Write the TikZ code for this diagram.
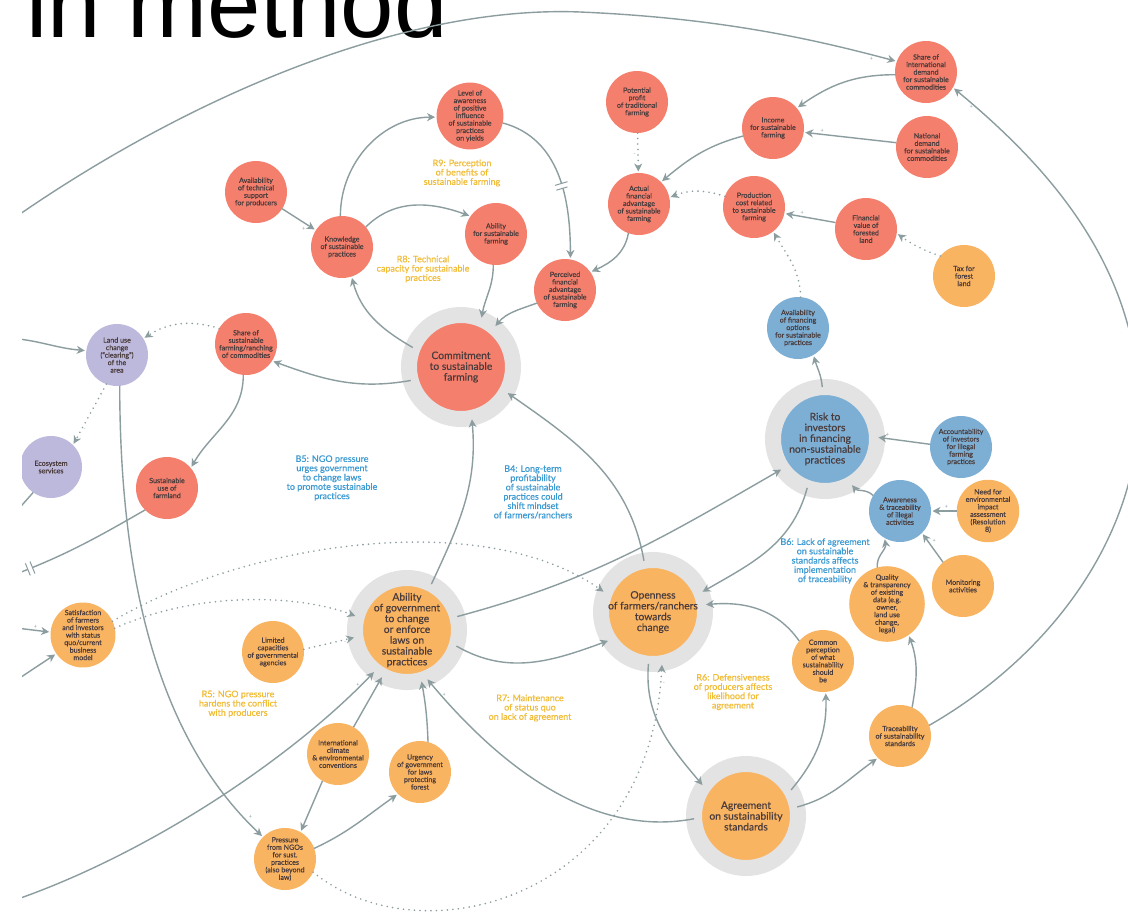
\documentclass[tikz,border=0pt]{standalone}
\usepackage{fontspec}
\setmainfont{Lato}
\newfontfamily\titlefont{Liberation Sans}
\newfontfamily\ndfont{Lato}[FakeBold=0.5]
\usetikzlibrary{arrows.meta,decorations.markings}
\definecolor{rc}{HTML}{F47F6D}
\definecolor{oc}{HTML}{F9B462}
\definecolor{bc}{HTML}{7DAFD5}
\definecolor{pc}{HTML}{BDB9DC}
\definecolor{hc}{HTML}{E3E3E3}
\definecolor{lc}{HTML}{8C9D9F}
\definecolor{tc}{HTML}{4A3C3C}
\definecolor{yl}{HTML}{F1BC36}
\definecolor{bl}{HTML}{3C9AD2}
\begin{document}
\begin{tikzpicture}[x=1pt,y=1pt,
  nd/.style={circle, inner sep=0pt, outer sep=0pt, minimum size=62pt, align=center, text=tc,
    font=\ndfont\fontsize{7.1}{7.5}\selectfont},
  rn/.style={nd, fill=rc}, onn/.style={nd, fill=oc}, bn/.style={nd, fill=bc}, pn/.style={nd, fill=pc},
  big/.style={minimum size=104pt, draw=hc, line width=16pt, font=\ndfont\fontsize{10.3}{10.8}\selectfont},
  ar/.style={draw=lc, line width=1.4pt, -{Stealth[length=8pt,width=8pt,inset=2.5pt]}, shorten >=1.5pt},
  dt/.style={ar, line width=1.8pt, dash pattern=on 0pt off 5.5pt, line cap=round},
  ln/.style={draw=lc, line width=1.4pt},
  sg/.style={font=\fontsize{5.5}{5.5}\selectfont, text=lc, inner sep=1.5pt},
  lblY/.style={align=center, text=yl, font=\ndfont\fontsize{9}{9.3}\selectfont, inner sep=0pt},
  lblB/.style={align=center, text=bl, font=\ndfont\fontsize{9}{9.3}\selectfont, inner sep=0pt},
  dly/.style={postaction={decorate, decoration={markings, mark=at position #1 with {
    \fill[white] (-2.5pt,-6pt) rectangle (2.5pt,6pt);
    \draw[lc, line width=1pt, solid, -] (-2.5pt,-6.5pt) -- (-2.5pt,6.5pt) (2.5pt,-6.5pt) -- (2.5pt,6.5pt);}}}}
]
\useasboundingbox (0,0) rectangle (1128,-916);
\fill[white] (0,0) rectangle (1128,-916);
\begin{scope}
\clip (0,0) rectangle (1128,-916);
\node[anchor=base west, inner sep=0pt, font=\titlefont\fontsize{96}{96}\selectfont] (ttl) at (26,-37) {in method};
\end{scope}
\begin{scope}
\clip (22,0) rectangle (1128,-916);
% ---------- red nodes
\node[rn] (lvl) at (470,-116) {Level of\\awareness\\of positive\\influence\\of sustainable\\practices\\on yields};
\node[rn] (avail) at (256,-192) {Availability\\of technical\\support\\for producers};
\node[rn] (know) at (342,-247) {Knowledge\\of sustainable\\practices};
\node[rn] (abil) at (496,-234) {Ability\\for sustainable\\farming};
\node[rn] (pot) at (637,-102) {Potential\\profit\\of traditional\\farming};
\node[rn] (inc) at (773,-128) {Income\\for sustainable\\farming};
\node[rn] (shint) at (926,-72) {Share of\\international\\demand\\for sustainable\\commodities};
\node[rn] (nat) at (927,-147) {National\\demand\\for sustainable\\commodities};
\node[rn] (act) at (639,-204) {Actual\\financial\\advantage\\of sustainable\\farming};
\node[rn] (prod) at (754,-207) {Production\\cost related\\to sustainable\\farming};
\node[rn] (fin) at (866,-229) {Financial\\value of\\forested\\land};
\node[rn] (perc) at (565,-290) {Perceived\\financial\\advantage\\of sustainable\\farming};
\node[rn] (shsus) at (246,-344) {Share of\\sustainable\\farming/ranching\\of commodities};
\node[rn] (suse) at (167,-488) {Sustainable\\use of\\farmland};
\node[rn, big] (commit) at (461,-367) {Commitment\\to sustainable\\farming};
% ---------- purple nodes
\node[pn] (land) at (117,-355) {Land use\\change\\(“clearing”)\\of the\\area};
\node[pn] (eco) at (51,-467) {Ecosystem\\services};
% ---------- blue nodes
\node[bn] (afin) at (798,-328) {Availability\\of financing\\options\\for sustainable\\practices};
\node[bn, big] (risk) at (825,-439) {Risk to\\investors\\in financing\\non-sustainable\\practices};
\node[bn] (acc) at (961,-447) {Accountability\\of investors\\for illegal\\farming\\practices};
\node[bn] (aw) at (900,-511) {Awareness\\\& traceability\\of illegal\\activities};
% ---------- orange nodes
\node[onn] (tax) at (964,-276) {Tax for\\forest\\land};
\node[onn] (need) at (988,-511) {Need for\\environmental\\impact\\assessment\\(Resolution\\8)};
\node[onn] (mon) at (963,-586) {Monitoring\\activities};
\node[onn] (qual) at (887,-604) {Quality\\\& transparency\\of existing\\data (e.g.\\owner,\\land use\\change,\\legal)};
\node[onn] (comm) at (823,-661) {Common\\perception\\of what\\sustainability\\should\\be};
\node[onn] (trace) at (900,-736) {Traceability\\of sustainability\\standards};
\node[onn] (sat) at (83,-635) {Satisfaction\\of farmers\\and investors\\with status\\quo/current\\business\\model};
\node[onn] (lim) at (273,-652) {Limited\\capacities\\of governmental\\agencies};
\node[onn] (intl) at (338,-754) {International\\climate\\\& environmental\\conventions};
\node[onn] (urg) at (420,-772) {Urgency\\of government\\for laws\\protecting\\forest};
\node[onn] (press) at (285,-859) {Pressure\\from NGOs\\for sust.\\practices\\(also beyond\\law)};
\node[onn, big] (gov) at (407,-630) {Ability\\of government\\to change\\or enforce\\laws on\\sustainable\\practices};
\node[onn, big] (open) at (653,-612) {Openness\\of farmers/ranchers\\towards\\change};
\node[onn, big] (agree) at (746,-816) {Agreement\\on sustainability\\standards};
% ---------- free ends
\coordinate (lA) at (0,-228);
\coordinate (lB) at (0,-338);
\coordinate (lC) at (0,-530);
\coordinate (lD) at (0,-580);
\coordinate (lE) at (0,-626);
\coordinate (lF) at (0,-691);
\coordinate (lG) at (0,-905);
% ---------- loop labels
\node[lblY] (r9) at (462,-173) {R9: Perception\\of benefits of\\sustainable farming};
\node[lblY] (r8) at (423,-269) {R8: Technical\\capacity for sustainable\\practices};
\node[lblB] (b5) at (332,-478) {B5: NGO pressure\\urges government\\to change laws\\to promote sustainable\\practices};
\node[lblB] (b4) at (533,-492) {B4: Long-term\\profitability\\of sustainable\\practices could\\shift mindset\\of farmers/ranchers};
\node[lblB] (b6) at (825,-561) {B6: Lack of agreement\\on sustainable\\standards affects\\implementation\\of traceability};
\node[lblY] (r5) at (238,-704) {R5: NGO pressure\\hardens the conflict\\with producers};
\node[lblY] (r7) at (530,-708) {R7: Maintenance\\of status quo\\on lack of agreement};
\node[lblY] (r6) at (733,-692) {R6: Defensiveness\\of producers affects\\likelihood for\\agreement};
% ---------- connectors
\draw[ar] (lA) .. controls (180,-100) and (400,-5) .. (580,-12) .. controls (720,-18) and (813,-39) .. (shint.160) node[sg,pos=.9,below]{+};
\draw[ar] (avail) -- (know) node[sg,pos=.75,below left]{+};
\draw[ar] (know.93) to[out=90,in=180] (lvl.182) node[sg,pos=.9,below]{+};
\draw[ar] (know.40) to[out=45,in=160] (abil.145) node[sg,pos=.88,below]{+};
\draw[ar, dly=.55] (lvl.-12) to[out=-15,in=90] (perc.80) node[sg,pos=.9,left]{+};
\draw[ar] (abil.-95) to[out=-90,in=80] (commit.67) node[sg,pos=.8,left]{+};
\draw[ar] (perc.205) to[out=200,in=50] (commit.50) node[sg,pos=.8,below right]{+};
\draw[ar] (commit.158) to[out=150,in=-75] (know.-72) node[sg,pos=.85,right]{+};
\draw[ar] (commit.195) to[out=190,in=-20] (shsus.-33) node[sg,pos=.88,above]{+};
\draw[dt] (pot) -- (act) node[sg,pos=.55,left]{-};
\draw[ar] (inc.195) to[out=195,in=40] (act.45) node[sg,pos=.88,above right]{+};
\draw[ar] (act.-110) to[out=-100,in=25] (perc.35) node[sg,pos=.8,above right]{+};
\draw[ar] (shint.185) to[out=180,in=35] (inc.40) node[sg,pos=.85,below]{+};
\draw[ar] (nat.172) -- (inc.-8) node[sg,pos=.8,above]{+};
\draw[dt] (prod.160) to[bend right=20] (act.12) node[sg,pos=.7,below]{-};
\draw[ar] (fin.168) -- (prod.-12) node[sg,pos=.65,above]{+};
\draw[dt] (tax.140) to[bend left=8] (fin.-8) node[sg,pos=.7,below]{-};
\draw[dt] (afin.85) to[out=92,in=-60] (prod.-52) node[sg,pos=.8,left]{-};
\draw[ar] (risk.93) to[out=95,in=-75] (afin.-60) node[sg,pos=.5,left]{+};
\draw[ar] (acc.175) -- (risk.2) node[sg,pos=.8,above]{+};
\draw[ar] (aw.150) to[out=135,in=-50] (risk.-60) node[sg,pos=.5,above right]{+};
\draw[ar] (need.180) -- (aw.0) node[sg,pos=.4,above]{+};
\draw[ar] (mon.130) -- (aw.-45) node[sg,pos=.6,above right]{+};
\draw[ar] (qual.105) to[out=95,in=-80] (aw.-120) node[sg,pos=.5,right]{+};
\draw[ar] (trace.67) to[out=80,in=-70] (qual.-55) node[sg,pos=.85,left]{+};
\draw[ar] (trace.20) .. controls (1060,-650) and (1150,-520) .. (1138,-380) .. controls (1125,-250) and (1040,-160) .. (shint.-30) node[sg,pos=.93,below]{+};
\draw[dt] (shsus.150) to[bend right=25] (land.32) node[sg,pos=.8,below]{-};
\draw[ar] (shsus.-95) to[out=-90,in=60] (suse.40) node[sg,pos=.85,right]{+};
\draw[dt] (land.-110) -- (eco.45) node[sg,pos=.75,right]{-};
\draw[ar] (land.-85) .. controls (120,-560) and (150,-730) .. (press.135) node[sg,pos=.95,above right]{+};
\draw[ar] (lB) to[out=0,in=175] (land.172) node[sg,pos=.85,below]{+};
\draw[ln] (eco.-125) -- (lC);
\draw[ln, dly=.8] (suse.-135) to[out=-150,in=20] (lD);
\draw[ar] (lE) -- (sat.175) node[sg,pos=.7,above]{+};
\draw[ar] (lF) -- (sat.-145);
\draw[dt] (sat.25) .. controls (240,-545) and (480,-505) .. (open.158);
\draw[dt] (sat.12) .. controls (200,-590) and (300,-595) .. (gov.165);
\draw[dt] (lim.5) -- (gov.188) node[sg,pos=.8,below]{-};
\draw[ar] (gov.62) to[out=65,in=-85] (commit.-78) node[sg,pos=.93,left]{+};
\draw[ar] (gov.15) to[out=15,in=210] (risk.215) node[sg,pos=.93,above left]{+};
\draw[ar] (gov.-18) to[out=-30,in=200] (open.213) node[sg,pos=.9,above]{+};
\draw[ar] (open.100) to[out=100,in=-35] (commit.-29) node[sg,pos=.95,below]{+};
\draw[ar] (open.-95) to[out=-95,in=130] (agree.145) node[sg,pos=.9,above right]{+};
\draw[ar] (risk.-110) to[out=-105,in=30] (open.22) node[sg,pos=.9,above]{+};
\draw[ar] (comm.140) to[out=125,in=5] (open.8) node[sg,pos=.93,above]{+};
\draw[ar] (agree.30) to[out=50,in=-88] (comm.-85) node[sg,pos=.92,left]{+};
\draw[ar] (agree.10) to[out=15,in=215] (trace.225) node[sg,pos=.85,above]{+};
\draw[ar] (agree.183) .. controls (610,-835) and (520,-790) .. (gov.-68) node[sg,pos=.95,right]{+};
\draw[ar] (urg.75) to[out=92,in=-80] (gov.-74) node[sg,pos=.85,left]{+};
\draw[ar] (intl.60) -- (gov.-118) node[sg,pos=.85,right]{+};
\draw[ar] (lG) .. controls (140,-860) and (290,-760) .. (gov.-128) node[sg,pos=.95,left]{+};
\draw[ar] (intl.-120) -- (press.60);
\draw[ar] (press.20) to[out=25,in=215] (urg.225) node[sg,pos=.85,above left]{+};
\draw[dt] (press.-25) .. controls (420,-960) and (650,-900) .. (open.-80) node[sg,pos=.97,right]{-};
\end{scope}
\end{tikzpicture}
\end{document}
